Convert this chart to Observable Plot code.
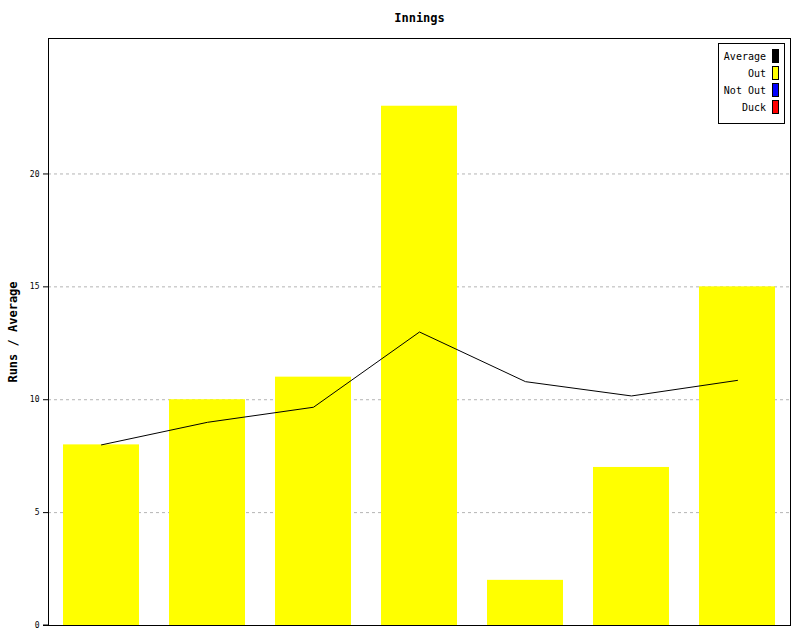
<!DOCTYPE html>
<html><head><meta charset="utf-8">
<script src="https://cdn.jsdelivr.net/npm/d3@7"></script>
<script src="https://cdn.jsdelivr.net/npm/@observablehq/plot@0.6"></script>
<style>
body{margin:0;background:#fff;color:#000;}
#wrap{position:relative;width:800px;height:640px;}
#legend{position:absolute;left:718px;top:43px;width:65px;height:79px;border:1px solid #000;background:#fff;color:#000;font:10px "DejaVu Sans Mono",monospace;}
#legend .row{position:absolute;right:5px;display:flex;align-items:center;height:14px;}
#legend .sw{display:inline-block;width:5px;height:12px;border:1px solid #000;margin-left:6px;}
</style></head>
<body><div id="wrap"></div>
<script>
const innings = ["1","2","3","4","5","6","7"];
const runs = [8, 10, 11, 23, 2, 7, 15];
const average = [8, 9, 9.667, 13, 10.8, 10.167, 10.857];
const yTicks = [0, 5, 10, 15, 20];
const legendLabels = ["Average", "Out", "Not Out", "Duck"];
const legendColors = ["#000000", "#ffff00", "#0000ff", "#ff0000"];

const data = innings.map((k, i) => ({k, runs: runs[i], avg: average[i]}));
const font = "DejaVu Sans Mono, monospace";

const plot = Plot.plot({
  width: 800, height: 640,
  marginTop: 38, marginRight: 10, marginBottom: 15, marginLeft: 48,
  style: {fontFamily: font, background: "#fff", color: "#000"},
  x: {domain: innings, paddingInner: 0.283, paddingOuter: 0.1415, axis: null},
  y: {domain: [0, 26], ticks: yTicks, label: null, axis: null},
  marks: [
    Plot.gridY(yTicks.filter(d => d > 0), {stroke: "#b4b4b4", strokeOpacity: 1, strokeDasharray: "3,3"}),
    Plot.barY(data, {x: "k", y: "runs", fill: "#ffff00"}),
    Plot.line(data, {x: "k", y: "avg", stroke: "#000", strokeWidth: 1, curve: "linear"}),
    Plot.axisY(yTicks, {tickSize: 5, tickPadding: 4, fontSize: 8, stroke: "#000", fill: "#000", label: null}),
    Plot.frame({anchor: "top", stroke: "#000"}),
    Plot.frame({anchor: "right", stroke: "#000"}),
    Plot.frame({anchor: "left", stroke: "#000"}),
    Plot.frame({anchor: "bottom", stroke: "#000"}),
    Plot.text(["Innings"], {frameAnchor: "top", dy: -17, lineAnchor: "bottom", fontWeight: "bold", fontSize: 12, fill: "#000"}),
    Plot.text(["Runs / Average"], {frameAnchor: "left", dx: -35, rotate: -90, textAnchor: "middle", fontWeight: "bold", fontSize: 12, fill: "#000"})
  ]
});
const wrap = document.getElementById("wrap");
wrap.appendChild(plot);
const svg = d3.select(plot);
svg.append("line").attr("x1", 43).attr("x2", 48).attr("y1", 625).attr("y2", 625).attr("stroke", "#000");

const lg = document.createElement("div");
lg.id = "legend";
legendLabels.forEach((l, i) => {
  const r = document.createElement("div");
  r.className = "row";
  r.style.top = (5 + i * 17) + "px";
  r.innerHTML = `<span>${l}</span><span class="sw" style="background:${legendColors[i]}"></span>`;
  lg.appendChild(r);
});
wrap.appendChild(lg);
</script></body></html>
